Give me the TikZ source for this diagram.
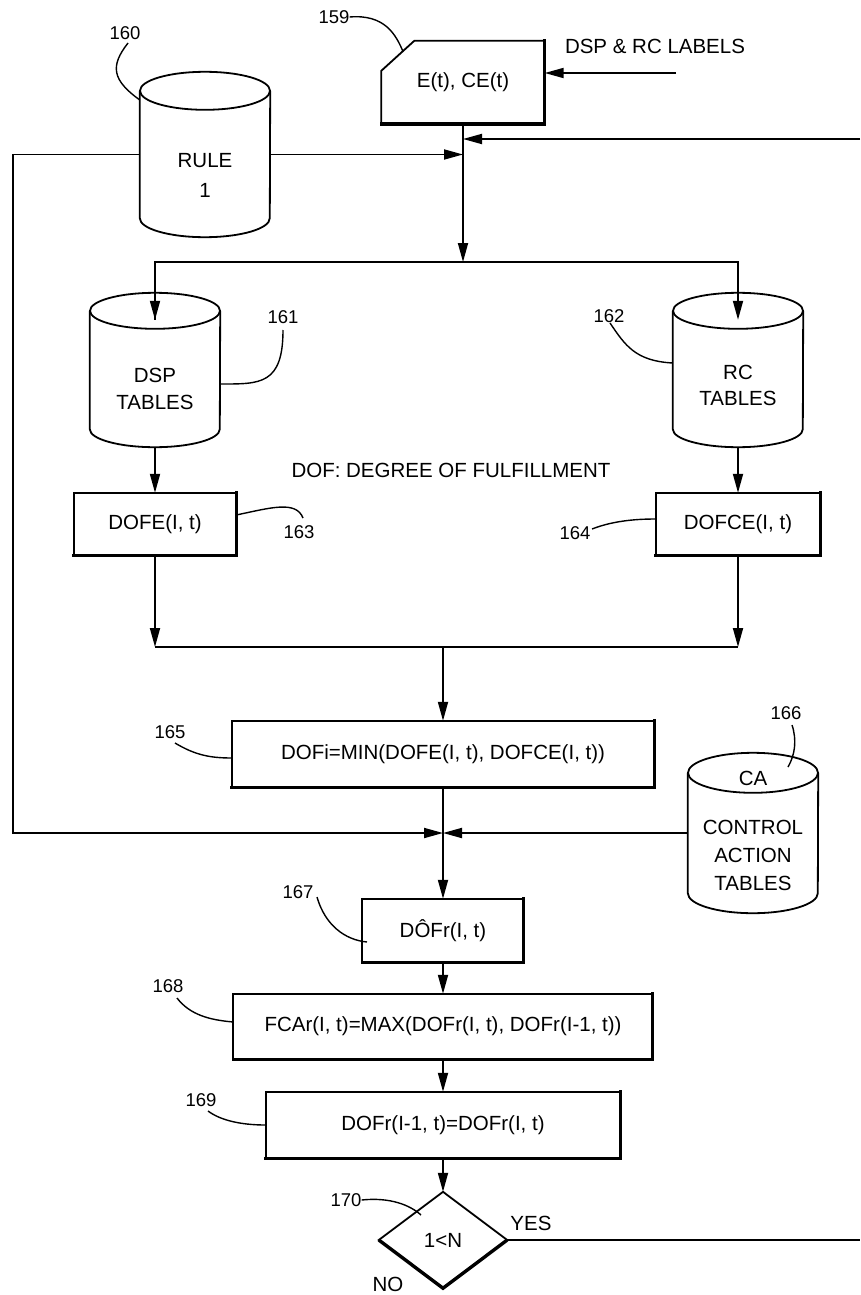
\documentclass[tikz,border=0pt]{standalone}
\usepackage{fontspec}
\setmainfont{Liberation Sans}
\usetikzlibrary{arrows.meta,shapes.geometric,calc}
\newcommand\myboxoutline[1]{%
  \draw[ln] (#1.south west) rectangle (#1.north east);
  \draw[thk] (#1.north east) -- (#1.south east) -- (#1.south west);}
\newcommand\mycylinder[2]{%
  \draw[ln] ([yshift=-#2]#1.north west) -- ([yshift=#2]#1.south west)
     arc[start angle=180,end angle=360,x radius=65pt,y radius=#2]
     -- ([yshift=-#2]#1.north east);
  \draw[ln] ([yshift=-#2]#1.north) ellipse[x radius=65pt,y radius=#2];}
\begin{document}
\begin{tikzpicture}[x=1pt,y=-1pt,
  ln/.style={line width=1.8pt, line join=miter},
  thk/.style={line width=3.4pt, line cap=rect},
  arr/.style={ln,-{Triangle[length=19pt,width=10pt]}},
  lead/.style={line width=1.4pt},
  txt/.style={inner sep=0pt, font=\fontsize{20.5}{27}\selectfont, align=center},
  numl/.style={inner sep=0pt, font=\fontsize{18.5}{18.5}\selectfont},
  procbox/.style={rectangle, inner sep=0pt, font=\fontsize{20.5}{24}\selectfont},
  cylnode/.style={rectangle, inner sep=0pt, minimum width=130pt},
]
\fill[white] (0,0) rectangle (860,1295);
\useasboundingbox (0,0) rectangle (860,1295);

% ---------- top input box 159
\node[procbox, minimum width=163pt, minimum height=83pt] (e159) at (463,82.5) {E(t), CE(t)};
\draw[ln] ([yshift=-30pt]e159.north west) -- ([xshift=33pt]e159.north west)
   -- (e159.north east) -- (e159.south east) -- (e159.south west) -- cycle;
\draw[thk] (e159.north east) -- (e159.south east) -- (e159.south west);
\node[numl] (n159) at (334,17) {159};
\draw[lead] (n159.east) .. controls (385,14) and (396,35) .. (403,51.5);
\node[txt] (lbl) at (655,46) {DSP \& RC LABELS};
\coordinate (lblin) at (676,73);
\draw[arr] (lblin) -- (lblin -| e159.east);

% ---------- RULE 1 cylinder 160
\node[cylnode, minimum height=165pt] (rule) at (205,154.5) {};
\mycylinder{rule}{19pt}
\node[txt, font=\fontsize{20.5}{30}\selectfont] (rulet) at (205,175) {RULE\\1};
\node[numl] (n160) at (125,33) {160};
\draw[lead] (128,43) .. controls (110,66) and (112,80) .. (rule.west |- 0,100);

% ---------- junctions on main line
\coordinate (j1) at (463,139);
\coordinate (j2) at (463,154.5);
\coordinate (split) at (463,262);
\coordinate (rin) at (860,139);
\draw[arr] (e159.south) -- (split);
\draw[arr] (rin) -- (j1);
\draw[arr] (rule.east) -- (j2);

% ---------- DSP and RC tables
\node[cylnode, minimum height=154pt] (dsp) at (155,370) {};
\mycylinder{dsp}{18pt}
\node[txt] (dspt) at (155,388.5) {DSP\\TABLES};
\node[cylnode, minimum height=154pt] (rc) at (738,370) {};
\mycylinder{rc}{18pt}
\node[txt, font=\fontsize{20.5}{26}\selectfont] (rct) at (738,385) {RC\\TABLES};
\draw[ln] (split) -| ([yshift=-27pt]dsp.north);
\draw[arr] (split -| dsp.north) -- ([yshift=-27pt]dsp.north);
\draw[arr] (split) -| ([yshift=-27pt]rc.north);
\node[numl] (n161) at (283,317) {161};
\draw[lead] (283,330) .. controls (283,385) and (260,384) .. (dsp.east |- 0,384);
\node[numl] (n162) at (609,316) {162};
\draw[lead] (610,323) .. controls (625,345) and (635,361) .. (rc.west |- 0,363);

\node[txt] (doft) at (451,470) {DOF: DEGREE OF FULFILLMENT};

% ---------- DOFE / DOFCE
\node[procbox, minimum width=162pt, minimum height=62pt] (dofe) at (155,524) {DOFE(I, t)};
\myboxoutline{dofe}
\node[procbox, minimum width=164pt, minimum height=62pt] (dofce) at (738,524) {DOFCE(I, t)};
\myboxoutline{dofce}
\draw[arr] (dsp.south) -- (dofe.north);
\draw[arr] (rc.south) -- (dofce.north);
\node[numl] (n163) at (299,532) {163};
\draw[lead] (dofe.east |- 0,515) .. controls (270,508) and (296,500) .. (303,518);
\node[numl] (n164) at (575,533) {164};
\draw[lead] (592,529) .. controls (615,520) and (640,519) .. (dofce.west |- 0,519);

\coordinate (jl) at (155,647);
\coordinate (jr) at (738,647);
\draw[arr] (dofe.south) -- (jl);
\draw[arr] (dofce.south) -- (jr);
\draw[ln] (jl) -- (jr);

% ---------- MIN box 165
\node[procbox, minimum width=422pt, minimum height=66pt] (min) at (443,754) {DOFi=MIN(DOFE(I, t), DOFCE(I, t))};
\myboxoutline{min}
\draw[arr] (jl -| min.north) -- (min.north);
\node[numl] (n165) at (170,732) {165};
\draw[lead] (175,743) .. controls (195,755) and (210,758) .. (min.west |- 0,758);

% ---------- CA tables 166
\node[cylnode, minimum height=160pt] (ca) at (753,833) {};
\mycylinder{ca}{20pt}
\node[txt] (cat) at (753,778) {CA};
\node[txt, font=\fontsize{20.5}{28}\selectfont] (catt) at (753,855) {CONTROL\\ACTION\\TABLES};
\node[numl] (n166) at (786,713) {166};
\draw[lead] (792,725) .. controls (797,740) and (795,755) .. (788,767);

% ---------- junction before 167
\coordinate (j3) at (443,833);
\coordinate (lloop) at (13,833);
\draw[arr] (rule.west) -| (lloop) -- (j3);
\draw[arr] (ca.west) -- (j3);

% ---------- DOFr box 167
\node[procbox, minimum width=161pt, minimum height=63pt] (dofr) at (443,930.5) {DÔFr(I, t)};
\myboxoutline{dofr}
\draw[arr] (min.south) -- (dofr.north);
\node[numl] (n167) at (298,892) {167};
\draw[lead] (317,897) .. controls (325,925) and (345,940) .. (367,942);

% ---------- FCAr box 168
\node[procbox, minimum width=419pt, minimum height=65pt] (fcar) at (443,1026.5) {FCAr(I, t)=MAX(DOFr(I, t), DOFr(I-1, t))};
\myboxoutline{fcar}
\draw[arr] (dofr.south) -- (fcar.north);
\node[numl] (n168) at (168,986) {168};
\draw[lead] (177,998) .. controls (190,1015) and (210,1020) .. (fcar.west |- 0,1022);

% ---------- box 169
\node[procbox, minimum width=354pt, minimum height=66pt] (dofr1) at (443,1125) {DOFr(I-1, t)=DOFr(I, t)};
\myboxoutline{dofr1}
\draw[arr] (fcar.south) -- (dofr1.north);
\node[numl] (n169) at (201,1100) {169};
\draw[lead] (208,1111) .. controls (220,1120) and (240,1125) .. (dofr1.west |- 0,1125);

% ---------- decision 170
\node[diamond, draw=none, minimum width=128pt, minimum height=96pt, inner sep=0pt,
      font=\fontsize{20.5}{24}\selectfont] (dec) at (443,1240) {1<N};
\draw[ln] (dec.north) -- (dec.east) -- (dec.south) -- (dec.west) -- cycle;
\draw[thk, line cap=butt] (dec.east) -- (dec.south) -- (dec.west);
\draw[arr] (dofr1.south) -- (dec.north);
\node[numl] (n170) at (346,1200) {170};
\draw[lead] (n170.east) .. controls (390,1197) and (410,1205) .. (421,1215);
\coordinate (yesend) at (860,1240);
\draw[ln] (dec.east) -- (yesend);
\node[txt] (yes) at (531,1223) {YES};
\node[txt] (no) at (388,1284) {NO};
\end{tikzpicture}
\end{document}
